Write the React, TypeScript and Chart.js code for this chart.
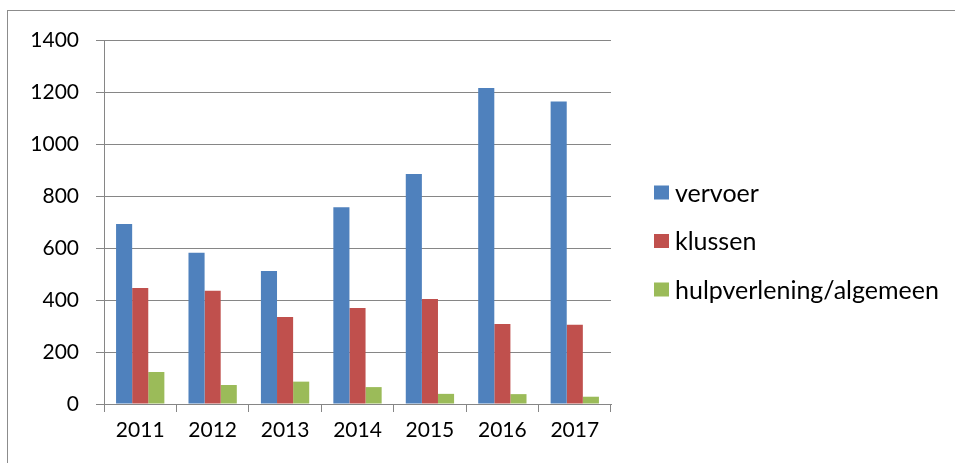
import React, { useEffect, useRef } from "react";
import { Chart, registerables } from "chart.js";

Chart.register(...registerables);

const years = ["2011", "2012", "2013", "2014", "2015", "2016", "2017"];
const vervoer = [692, 582, 512, 757, 885, 1215, 1163];
const klussen = [446, 436, 335, 369, 404, 308, 305];
const hulpverlening = [123, 73, 86, 65, 39, 38, 28];
const yTicks = [0, 200, 400, 600, 800, 1000, 1200, 1400];

const seriesNames = ["vervoer", "klussen", "hulpverlening/algemeen"];
const seriesColors = ["#4F81BD", "#C0504D", "#9BBB59"];

const FONT = "Lato, 'Open Sans', sans-serif";
const GRID = "#868686";

export default function App() {
  const ref = useRef<HTMLCanvasElement | null>(null);

  useEffect(() => {
    let chart: Chart | null = null;
    let cancelled = false;

    // Legend drawn beside the plot, from the datasets' own labels and colours
    const sideLegend = {
      id: "sideLegend",
      afterDraw(c: any) {
        const ctx = c.ctx;
        const area = c.chartArea;
        const boxX = area.right + 43;
        const textX = boxX + 21;
        const rowGap = 48.5;
        const firstY = 192.5;
        ctx.save();
        ctx.font = "25px " + FONT;
        ctx.textBaseline = "middle";
        ctx.textAlign = "left";
        c.data.datasets.forEach((ds: any, i: number) => {
          const cy = firstY + i * rowGap;
          ctx.fillStyle = ds.backgroundColor;
          ctx.fillRect(boxX, cy - 7, 15, 14);
          ctx.fillStyle = "#000";
          ctx.fillText(ds.label, textX, cy + 1);
        });
        ctx.restore();
      },
    };

    const build = () => {
      if (cancelled || !ref.current) return;
      chart = new Chart(ref.current, {
        type: "bar",
        data: {
          labels: years,
          datasets: [vervoer, klussen, hulpverlening].map((d, i) => ({
            label: seriesNames[i],
            data: d,
            backgroundColor: seriesColors[i],
            borderWidth: 0,
            categoryPercentage: 0.667,
            barPercentage: 1,
          })),
        },
        options: {
          animation: false,
          responsive: false,
          maintainAspectRatio: false,
          layout: { padding: { top: 40, left: 0, right: 344, bottom: 0 } },
          plugins: {
            title: { display: false },
            tooltip: { enabled: false },
            legend: { display: false },
          },
          scales: {
            x: {
              grid: {
                display: true,
                drawOnChartArea: false,
                drawTicks: true,
                tickLength: 8,
                color: GRID,
                offset: true,
              },
              border: { display: true, color: GRID, width: 1 },
              ticks: {
                color: "#000",
                font: { family: FONT, size: 21 },
                padding: 6,
                maxRotation: 0,
              },
              afterFit(scale: any) {
                scale.height = 59;
              },
            },
            y: {
              min: 0,
              max: 1400,
              afterBuildTicks(scale: any) {
                scale.ticks = yTicks.map((v) => ({ value: v }));
              },
              grid: {
                color: GRID,
                lineWidth: 1,
                tickLength: 8,
                drawTicks: true,
              },
              border: { display: true, color: GRID, width: 1 },
              ticks: {
                color: "#000",
                font: { family: FONT, size: 21 },
                padding: 17,
                callback: (v: any) => String(v),
              },
              afterFit(scale: any) {
                scale.width = 104;
              },
            },
          },
        },
        plugins: [sideLegend],
      });
    };
    const fonts: any = (document as any).fonts;
    if (fonts && fonts.load) {
      Promise.all([fonts.load("21px Lato"), fonts.load("25px Lato"), fonts.ready]).then(build, build);
    } else {
      build();
    }
    return () => {
      cancelled = true;
      if (chart) chart.destroy();
    };
  }, []);

  return (
    <div
      style={{
        position: "fixed",
        left: 0,
        top: 0,
        width: 955,
        height: 463,
        overflow: "hidden",
        background: "#fff",
      }}
    >
      <div
        style={{
          position: "absolute",
          left: 7,
          top: 10,
          width: 960,
          height: 470,
          borderTop: "1px solid #8c8c8c",
          borderLeft: "1px solid #8c8c8c",
          boxSizing: "border-box",
        }}
      />
      <canvas
        ref={ref}
        width={955}
        height={463}
        style={{ position: "absolute", left: 0, top: 0, width: 955, height: 463 }}
      />
    </div>
  );
}
